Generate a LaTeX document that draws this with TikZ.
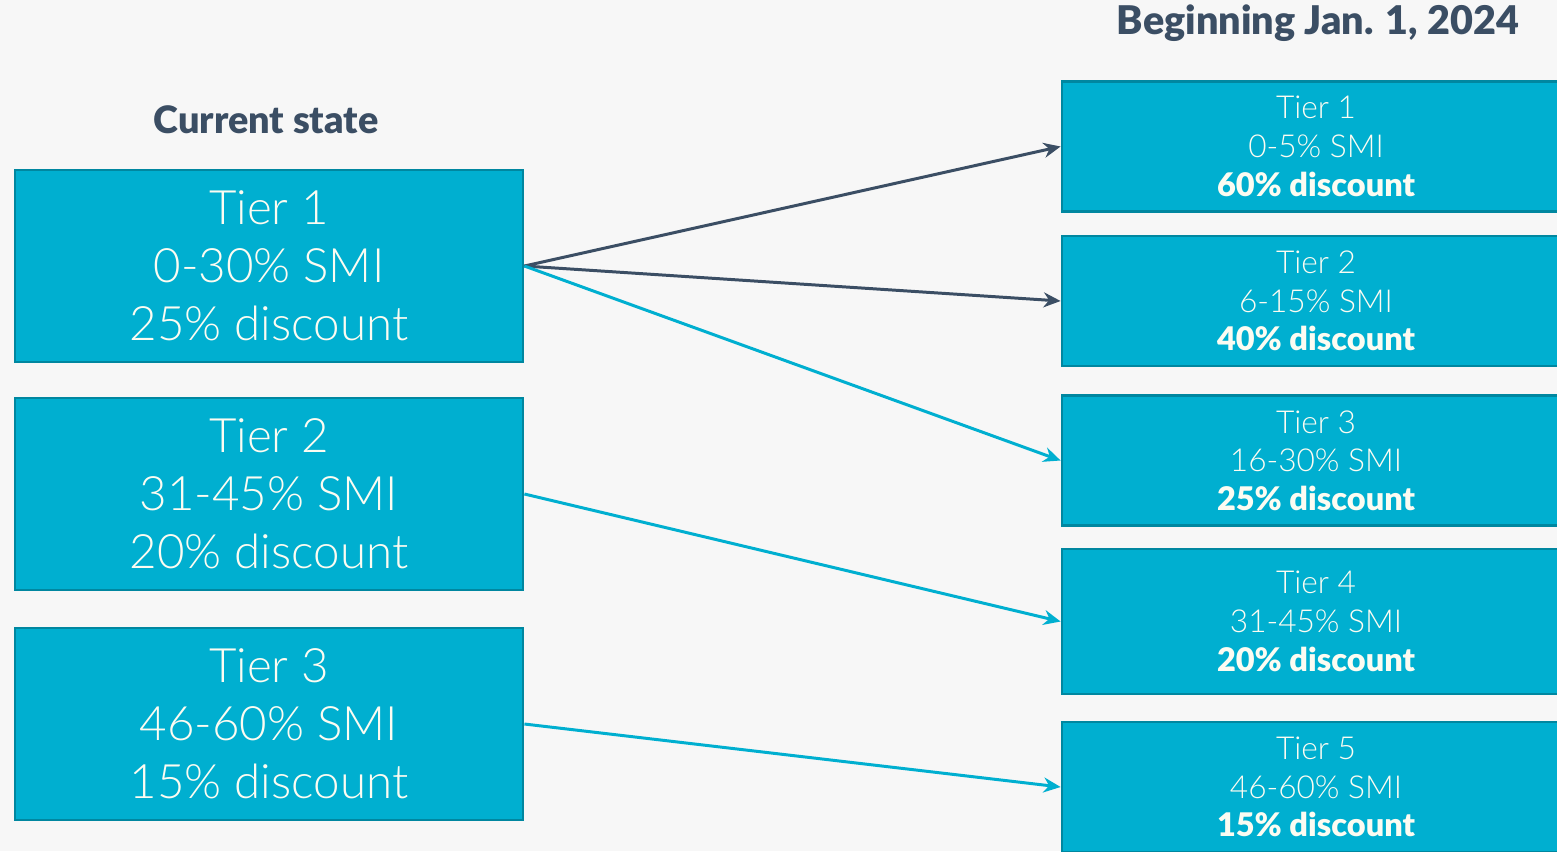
\documentclass[tikz,border=0pt]{standalone}
\usepackage{fontspec}
\setmainfont{Lato}
\newfontfamily\lightfont{Lato Light}
\newfontfamily\heavyfont{Lato Black}
\usepackage{xcolor}
\definecolor{bgcol}{RGB}{247,247,247}
\definecolor{tierfill}{RGB}{0,175,208}
\definecolor{tierline}{RGB}{0,135,160}
\definecolor{slate}{RGB}{59,78,100}
\definecolor{cream}{RGB}{252,252,242}
\usepackage{tikz}
\usetikzlibrary{arrows.meta, positioning}

\begin{document}
\begin{tikzpicture}[
    oldbox/.style={
        rectangle,
        draw=tierline,
        line width=1.6pt,
        fill=tierfill,
        minimum width=10.16cm,
        minimum height=3.84cm,
        align=center,
        text=cream,
        font=\lightfont\fontsize{27}{33}\selectfont
    },
    newbox/.style={
        rectangle,
        draw=tierline,
        line width=1.6pt,
        fill=tierfill,
        minimum width=10.16cm,
        minimum height=2.6cm,
        align=center,
        text=cream,
        font=\lightfont\fontsize{18}{22}\selectfont
    },
    title/.style={font=\heavyfont\fontsize{21.5}{24}\selectfont, text=slate},
    arr/.style={-{Stealth[length=3.4mm, width=3mm]}, line width=1.7pt}
]

\newcommand{\disc}[1]{{\heavyfont\fontsize{18.5}{22}\selectfont #1}}

\fill[bgcol] (0,0) rectangle (31.14,-17.02);
\useasboundingbox (0,0) rectangle (31.14,-17.02);

% current state
\node[title] (curtitle) at (5.32,-2.4) {Current state};
\node[oldbox] (old1) at (5.38,-5.32)  {Tier 1\\0-30\% SMI\\25\% discount};
\node[oldbox] (old2) at (5.38,-9.88)  {Tier 2\\31-45\% SMI\\20\% discount};
\node[oldbox] (old3) at (5.38,-14.48) {Tier 3\\46-60\% SMI\\15\% discount};

% from 2024
\node[title, font=\heavyfont\fontsize{22.5}{24}\selectfont] (newtitle) at (26.36,-0.46) {Beginning Jan. 1, 2024};
\node[newbox] (new1) at (26.32,-2.93)  {Tier 1\\0-5\% SMI\\\disc{60\% discount}};
\node[newbox] (new2) at (26.32,-6.02)  {Tier 2\\6-15\% SMI\\\disc{40\% discount}};
\node[newbox] (new3) at (26.32,-9.21)  {Tier 3\\16-30\% SMI\\\disc{25\% discount}};
\node[newbox, minimum height=2.9cm] (new4) at (26.32,-12.43) {Tier 4\\31-45\% SMI\\\disc{20\% discount}};
\node[newbox] (new5) at (26.32,-15.74) {Tier 5\\46-60\% SMI\\\disc{15\% discount}};

\draw[arr, slate]    (old1.east) -- (new1.west);
\draw[arr, slate]    (old1.east) -- (new2.west);
\draw[arr, tierfill] (old1.east) -- (new3.west);
\draw[arr, tierfill] (old2.east) -- (new4.west);
\draw[arr, tierfill] (old3.east) -- (new5.west);

\end{tikzpicture}
\end{document}
